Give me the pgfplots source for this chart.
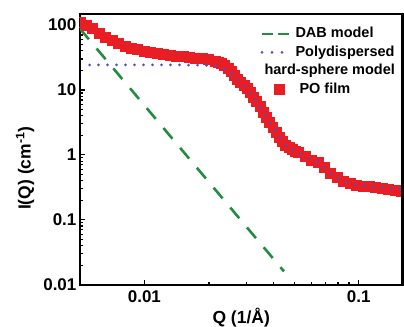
\documentclass[border=0pt]{standalone}
\usepackage{pgfplots}
\pgfplotsset{compat=1.18}
\usepackage{fontspec}
\setmainfont{Liberation Sans}

\definecolor{poRed}{RGB}{232,30,36}
\definecolor{dabGreen}{RGB}{35,140,65}
\definecolor{hsBlue}{RGB}{80,80,190}

% legend samples for each series
\pgfplotsset{
  dab legend/.style={legend image code/.code={\draw[##1, dash pattern=on 11pt off 5pt] (0pt,0pt) -- (27pt,0pt);}},
  hs legend/.style={legend image code/.code={\draw[##1] (0pt,0pt) -- (30pt,0pt);}},
  po legend/.style={legend image code/.code={\draw[##1] plot coordinates {(17pt,0pt)};}},
}

\begin{document}
\begin{tikzpicture}
\begin{axis}[
  name=ax,
  at={(0pt,0pt)}, anchor=south west,
  scale only axis,
  width=323pt, height=271pt,
  xmode=log, ymode=log,
  xmin=0.005, xmax=0.16,
  ymin=0.01, ymax=148,
  clip marker paths=true,
  xtick pos=bottom, ytick pos=left,
  axis line style={line width=2.3pt, black},
  tick style={line width=1.2pt, black},
  major tick length=5pt,
  minor tick length=3pt,
  xtick={0.01,0.1},
  xticklabels={0.01,0.1},
  ytick={0.01,0.1,1,10,100},
  yticklabels={0.01,0.1,1,10,100},
  ticklabel style={font=\bfseries\fontsize{17}{17}\selectfont},
  xticklabel style={anchor=base, yshift=-18.3pt},
  yticklabel style={anchor=east},
  xlabel={Q (1/Å)},
  ylabel={I(Q) (cm\textsuperscript{-1})},
  label style={font=\bfseries\fontsize{17.5}{17.5}\selectfont},
  xlabel style={at={(axis description cs:0.5,-0.142)}, anchor=base},
  ylabel style={at={(axis description cs:-0.17,0.43)}, anchor=center},
  legend style={
    at={(axis description cs:0.56,0.955)}, anchor=north west,
    draw=none, fill=none, inner sep=0pt, outer sep=0pt,
    row sep=3pt, column sep=1pt,
    font=\bfseries\fontsize{14.5}{14.5}\selectfont,
    nodes={inner sep=1pt, text height=10.5pt, text depth=3pt, anchor=west},
  },
  legend cell align=left,
]

% DAB model: straight Porod-like decay on log-log axes
\addplot[dabGreen, line width=2.6pt, dash pattern=on 14pt off 12pt, dab legend]
  coordinates {(0.005,88) (0.01,5.78) (0.02,0.38) (0.03,0.077) (0.0448,0.016)};
\addlegendentry{DAB model}

\addlegendimage{hsBlue, line width=3pt, line cap=round, dash pattern=on 0pt off 10pt, hs legend}
\addlegendentry{Polydispersed}
\addlegendimage{empty legend}
\addlegendentry{\hspace*{-31pt}hard-sphere model}

% measured scattering of the PO film
\addplot[only marks, mark=square*, mark size=5pt, color=poRed,
  mark options={draw=poRed, fill=poRed, line width=0pt}, po legend]
  coordinates {
  (0.005012,108) (0.005370,99.5) (0.005754,87) (0.006166,74) (0.006607,64.6)
  (0.007079,58.2) (0.007586,52.5) (0.008128,47.3) (0.008710,44.2) (0.009333,41.7)
  (0.01,39.6) (0.01072,37.8) (0.01148,36.0) (0.01230,34.9) (0.01318,34.0)
  (0.01413,33.1) (0.01514,32.4) (0.01622,31.6) (0.01738,30.9) (0.01862,30.2)
  (0.01995,29.4) (0.02138,27.5) (0.02213,26.3) (0.02291,25.1) (0.02371,23.4)
  (0.02455,21.4) (0.02541,19.1) (0.02630,16.6) (0.02723,14.6) (0.02818,12.9)
  (0.02917,11.6) (0.03020,10.5) (0.03126,9.12) (0.03236,7.76) (0.03350,6.53)
  (0.03467,5.50) (0.03589,4.57) (0.03715,3.80) (0.03846,3.16) (0.03981,2.63)
  (0.04121,2.21) (0.04266,1.86) (0.04416,1.62) (0.04571,1.41) (0.04732,1.30)
  (0.04898,1.20) (0.05070,1.135) (0.05248,1.07)
  (0.05623,0.93) (0.06026,0.83) (0.06457,0.75) (0.06918,0.63) (0.07413,0.52)
  (0.07943,0.447) (0.08511,0.389) (0.09120,0.359) (0.09772,0.339) (0.1047,0.327)
  (0.1122,0.320) (0.1202,0.314) (0.1288,0.308) (0.1380,0.292) (0.1479,0.279)
  (0.1585,0.269)
  };
\addlegendentry{\hspace*{4pt}PO film}

% polydispersed hard-sphere model fit
\addplot[hsBlue, line width=3pt, line cap=round, dash pattern=on 0pt off 9pt, forget plot]
  coordinates {
  (0.00555,24.3) (0.008,24.3) (0.012,24.3) (0.016,24.2) (0.019,24.0)
  (0.02138,23.4) (0.02291,22.2) (0.02455,20.0) (0.0263,16.4) (0.02818,12.9)
  (0.03020,10.5) (0.03236,7.76) (0.03467,5.50) (0.03715,3.80) (0.03981,2.63)
  (0.04266,1.86) (0.04571,1.41) (0.04898,1.20) (0.05248,1.07) (0.05623,0.93)
  (0.06026,0.83) (0.06457,0.75) (0.06918,0.63) (0.07413,0.52) (0.07943,0.447)
  (0.08511,0.389) (0.09120,0.36) (0.09772,0.345) (0.1047,0.335) (0.1122,0.328)
  (0.1202,0.322) (0.1288,0.316) (0.1380,0.31) (0.1479,0.305) (0.1585,0.30)
  };
\end{axis}
% heavy frame bars along the top and right of the 323pt x 271pt plot box
\fill[black] (-1.15pt,269.85pt) rectangle (324.15pt,272.15pt);
\fill[black] (321.85pt,-1.15pt) rectangle (324.15pt,272.15pt);
% page extent: room for labels at left and below, a margin above
\pgfresetboundingbox
\path[use as bounding box] (-80pt,-42pt) rectangle (324.5pt,285pt);
\end{tikzpicture}
\end{document}
